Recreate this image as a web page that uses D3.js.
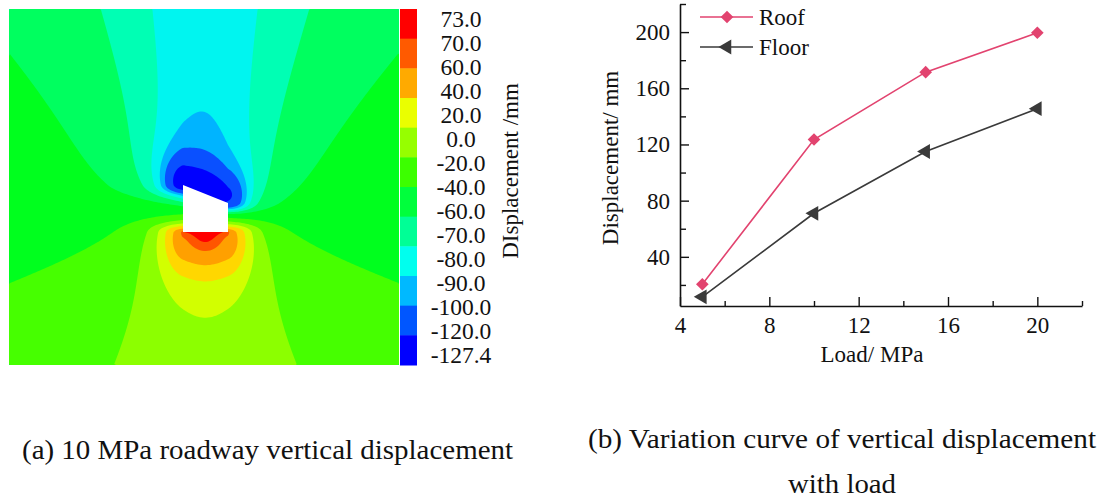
<!DOCTYPE html>
<html>
<head>
<meta charset="utf-8">
<script src="https://cdn.jsdelivr.net/npm/d3@7/dist/d3.min.js"></script>
<style>
  body { margin: 0; background: #fff; }
  text { font-family: "Liberation Serif", "Times New Roman", serif; fill: #111; }
</style>
</head>
<body>
<script>
/* (a) contour of vertical displacement + (b) displacement vs load */

// ---- panel (b) data ----
const loads = [5, 10, 15, 20];
const roofDisp = [20.5, 123.5, 171.5, 199.5];
const floorDisp = [11.5, 71, 115, 145.5];
const xTicks = [4, 8, 12, 16, 20];
const xMinor = [6, 10, 14, 18, 22];
const yTicks = [40, 80, 120, 160, 200];
const yMinor = [20, 60, 100, 140, 180, 220];

// ---- panel (a) data ----
const bandThresholds = [-120, -100, -90, -80, -70, -60, -40, -20, 0, 20, 40, 60, 70];
const bandColors = ["#0000ff", "#0a50ff", "#00b4ff", "#00f5f0", "#00ffb4", "#00ff5f", "#00ff1e",
  "#46ff00", "#8cff00", "#d2ff00", "#ffd700", "#ffa000", "#ff5500", "#ff0000"];
const colorbarColors = ["#ff0000", "#ff5a00", "#ffaa00", "#eaff00", "#96ff00", "#3cff00",
  "#00ff3c", "#00ff96", "#00ffee", "#00b9ff", "#0056ff", "#0000ff"];
const colorbarLabels = ["73.0", "70.0", "60.0", "40.0", "20.0", "0.0", "-20.0", "-40.0", "-60.0",
  "-70.0", "-80.0", "-90.0", "-100.0", "-120.0", "-127.4"];
// roadway outline (deformed roof)
const roadway = [[183, 185], [228, 203], [228, 232], [183, 232]];

const W = 1109, H = 500;
const svg = d3.select("body").append("svg").attr("width", W).attr("height", H);

// displacement field model around the roadway (mm)
const cx = 205.5, cy = 210;
const rad = Math.PI / 180;
function field(px, py) {
  const X = px - cx, Y = py - cy;
  const r = Math.hypot(X, Y) + 1e-6;
  const phi = Math.atan2(Math.abs(X), -Y) / rad;
  let h;
  if (phi <= 90) {
    const s = 16 + 2400 / r;
    const c = Math.cos(phi * rad);
    h = -14 * c - 21 * Math.exp(-Math.pow(phi / s, 2)) * Math.pow(c, 0.7);
  } else {
    const psi = 180 - phi;
    h = 28 * Math.cos(psi * rad) + 12 * Math.exp(-Math.pow(psi / 30, 2));
  }
  const dx = Math.max(0, 183 - px, px - 228);
  const xr = Math.min(228, Math.max(183, px));
  const roofY = 185 + (xr - 183) * 18 / 45;
  let dyT = roofY - py; if (dyT < 0) dyT = -dyT * 3;
  const rT = Math.hypot(dx / 0.75, dyT);
  const rT2 = Math.hypot(dx / 1.6, dyT);
  const nT = -50 / (1 + Math.pow(rT / 25, 2.7)) - 10 / (1 + Math.pow(rT2 / 55, 2));
  let dyB = py - 232; if (dyB < 0) dyB = -dyB * 5;
  const rB = Math.hypot(dx / 0.6, dyB);
  const nB = 20 * Math.exp(-rB / 6) + 80 / (1 + Math.pow(rB / 41, 2.6));
  return -50 + h + nT + nB;
}

const plot = {x: 9, y: 9, w: 390, h: 356};
const cell = 2;
const nx = Math.round(plot.w / cell), ny = Math.round(plot.h / cell);
const grid = new Float64Array(nx * ny);
for (let j = 0; j < ny; j++)
  for (let i = 0; i < nx; i++)
    grid[j * nx + i] = field(plot.x + (i + 0.5) * cell, plot.y + (j + 0.5) * cell);

const contours = d3.contours().size([nx, ny]).thresholds(bandThresholds)(grid);
const gp = d3.geoPath(d3.geoIdentity().scale(cell).translate([plot.x, plot.y]));

svg.append("clipPath").attr("id", "pclip").append("rect")
  .attr("x", plot.x).attr("y", plot.y).attr("width", plot.w).attr("height", plot.h);
const cg = svg.append("g").attr("clip-path", "url(#pclip)");
cg.append("rect").attr("x", plot.x).attr("y", plot.y).attr("width", plot.w).attr("height", plot.h)
  .attr("fill", bandColors[0]);
cg.selectAll("path.band").data(contours).join("path")
  .attr("class", "band")
  .attr("d", gp)
  .attr("fill", (d, i) => bandColors[i + 1]);
svg.append("polygon").attr("points", roadway.map(p => p.join(",")).join(" ")).attr("fill", "#fff");

// colour bar
const cb = d3.scaleBand().domain(d3.range(colorbarColors.length)).range([plot.y, plot.y + plot.h]);
svg.selectAll("rect.cb").data(colorbarColors).join("rect")
  .attr("class", "cb")
  .attr("x", 400).attr("width", 17)
  .attr("y", (d, i) => cb(i)).attr("height", cb.bandwidth() + 0.5)
  .attr("fill", d => d);
const cbl = d3.scalePoint().domain(d3.range(colorbarLabels.length)).range([27, 363]);
svg.selectAll("text.cbl").data(colorbarLabels).join("text")
  .attr("class", "cbl")
  .attr("x", 461).attr("y", (d, i) => cbl(i))
  .attr("text-anchor", "middle").attr("font-size", 23.5)
  .text(d => d);
svg.append("text")
  .attr("transform", "translate(518,171) rotate(-90)")
  .attr("text-anchor", "middle").attr("font-size", 23)
  .text("DIsplacement /mm");

// ---- panel (b) line chart ----
const x = d3.scaleLinear().domain([4, 22]).range([680, 1082]);
const y = d3.scaleLinear().domain([5, 220]).range([306, 4]);

const gx = svg.append("g").attr("transform", "translate(0,306)");
gx.call(d3.axisBottom(x).tickValues(xTicks).tickSizeInner(-9).tickSizeOuter(0).tickPadding(11)
  .tickFormat(d3.format("d")));
gx.append("g").call(d3.axisBottom(x).tickValues(xMinor).tickSize(-5).tickFormat(""))
  .select(".domain").remove();
const gy = svg.append("g").attr("transform", "translate(680,0)");
gy.call(d3.axisLeft(y).tickValues(yTicks).tickSizeInner(-9).tickSizeOuter(0).tickPadding(10)
  .tickFormat(d3.format("d")));
gy.append("g").call(d3.axisLeft(y).tickValues(yMinor).tickSize(-6).tickFormat(""))
  .select(".domain").remove();
svg.selectAll(".domain").attr("stroke", "#111").attr("stroke-width", 1.6);
svg.selectAll(".tick line").attr("stroke", "#111").attr("stroke-width", 1.4);
svg.selectAll(".tick text").attr("font-size", 23).attr("fill", "#111");

svg.append("text").attr("x", 872).attr("y", 362).attr("text-anchor", "middle")
  .attr("font-size", 23).text("Load/ MPa");
svg.append("text").attr("transform", "translate(618,158) rotate(-90)")
  .attr("text-anchor", "middle").attr("font-size", 23).text("Displacement/ mm");

const series = [
  {name: "Roof", values: roofDisp, color: "#e2436f", symbol: d3.symbolSquare, size: 80, rot: 45},
  {name: "Floor", values: floorDisp, color: "#3a3a3a", symbol: d3.symbolTriangle, size: 95, rot: -90}
];
const line = d3.line().x((d, i) => x(loads[i])).y(d => y(d));
series.forEach((s, k) => {
  svg.append("path").attr("d", line(s.values)).attr("fill", "none")
    .attr("stroke", s.color).attr("stroke-width", 1.6);
  svg.selectAll(null).data(s.values).join("path")
    .attr("d", d3.symbol(s.symbol, s.size))
    .attr("transform", (d, i) => `translate(${x(loads[i])},${y(d)}) rotate(${s.rot})`)
    .attr("fill", s.color);
  // legend
  const ly = 17 + k * 30;
  svg.append("line").attr("x1", 700).attr("x2", 753).attr("y1", ly).attr("y2", ly)
    .attr("stroke", s.color).attr("stroke-width", 1.6);
  svg.append("path").attr("d", d3.symbol(s.symbol, s.size))
    .attr("transform", `translate(727,${ly}) rotate(${s.rot})`).attr("fill", s.color);
  svg.append("text").attr("x", 759).attr("y", ly + 8).attr("font-size", 23).text(s.name);
});

// captions
svg.append("text").attr("x", 22).attr("y", 459).attr("font-size", 27)
  .attr("textLength", 491).attr("lengthAdjust", "spacingAndGlyphs")
  .text("(a) 10 MPa roadway vertical displacement");
svg.append("text").attr("x", 588).attr("y", 448).attr("font-size", 27)
  .attr("textLength", 508).attr("lengthAdjust", "spacingAndGlyphs")
  .text("(b) Variation curve of vertical displacement");
svg.append("text").attr("x", 788).attr("y", 493).attr("font-size", 27)
  .attr("textLength", 108).attr("lengthAdjust", "spacingAndGlyphs")
  .text("with load");
</script>
</body>
</html>
